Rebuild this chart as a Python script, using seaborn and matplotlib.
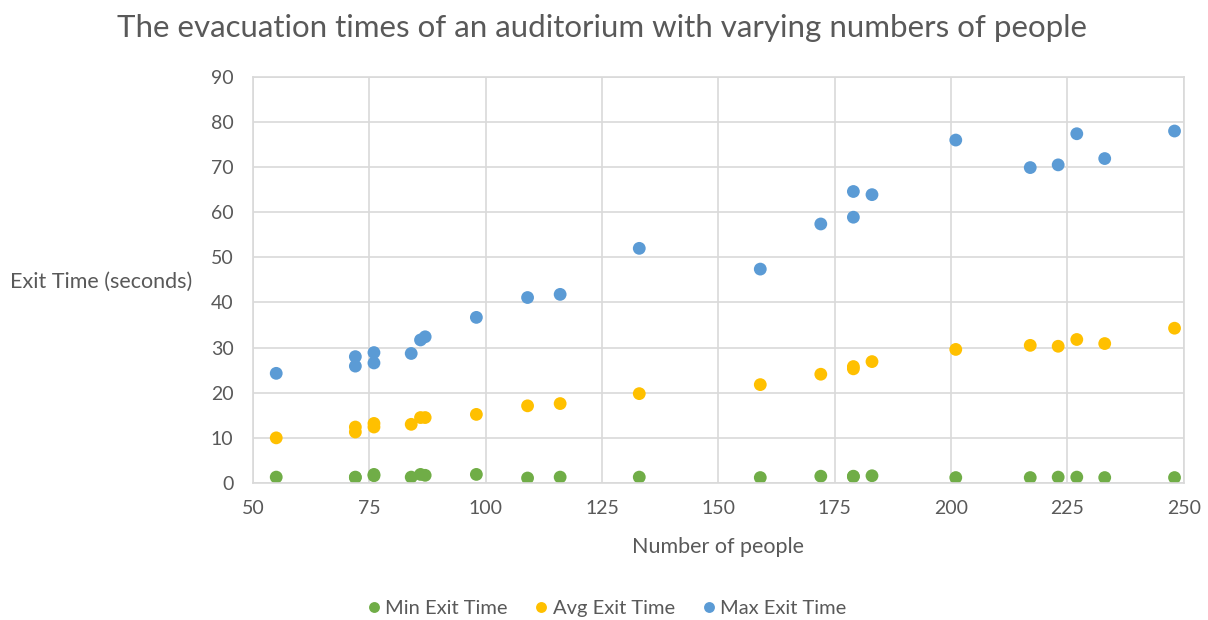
import matplotlib
matplotlib.use("Agg")
import matplotlib.pyplot as plt
import pandas as pd
import seaborn as sns

# Valores
people = [55, 72, 72, 76, 76, 84, 86, 87, 98, 109, 116, 133,
          159, 172, 179, 179, 183, 201, 217, 223, 227, 233, 248]
min_exit = [1.3, 1.3, 1.2, 1.9, 1.6, 1.3, 1.9, 1.7, 1.9, 1.1, 1.3, 1.3,
            1.2, 1.5, 1.5, 1.4, 1.6, 1.2, 1.2, 1.3, 1.3, 1.2, 1.2]
avg_exit = [10.0, 12.4, 11.3, 13.2, 12.4, 13.0, 14.5, 14.5, 15.2, 17.1, 17.6, 19.8,
            21.8, 24.1, 25.8, 25.3, 26.9, 29.6, 30.5, 30.3, 31.8, 30.9, 34.3]
max_exit = [24.3, 28.0, 25.9, 28.9, 26.6, 28.7, 31.7, 32.4, 36.7, 41.1, 41.8, 52.0,
            47.4, 57.4, 58.9, 64.6, 63.9, 76.0, 69.9, 70.5, 77.4, 71.9, 78.0]
series_names = ["Min Exit Time", "Avg Exit Time", "Max Exit Time"]
x_ticks = [50, 75, 100, 125, 150, 175, 200, 225, 250]
y_ticks = [0, 10, 20, 30, 40, 50, 60, 70, 80, 90]

colors = ["#70AD47", "#FFC000", "#5B9BD5"]
text_color = "#595959"
grid_color = "#D9D9D9"

df = pd.DataFrame({
    "people": people * 3,
    "time": min_exit + avg_exit + max_exit,
    "series": [s for s in series_names for _ in people],
})

sns.set_style("white")
plt.rcParams["font.family"] = ["Lato", "DejaVu Sans"]

fig = plt.figure(figsize=(12.08, 6.2), dpi=100)
ax = fig.add_axes([0.2094, 0.221, 0.7706, 0.655])

sns.scatterplot(
    data=df, x="people", y="time", hue="series",
    hue_order=series_names, palette=colors,
    s=85, linewidth=0, ax=ax, legend=True,
)

ax.set_xlim(50, 250)
ax.set_ylim(0, 90)
ax.set_xticks(x_ticks)
ax.set_yticks(y_ticks)
ax.grid(True, color=grid_color, linewidth=1.2)
ax.set_axisbelow(True)
for sp in ax.spines.values():
    sp.set_color(grid_color)
    sp.set_linewidth(1.2)
ax.tick_params(axis="y", length=0, labelsize=14, labelcolor=text_color, pad=14)
ax.tick_params(axis="x", length=0, labelsize=14, labelcolor=text_color, pad=12)

ax.set_xlabel("")
ax.set_ylabel("")
fig.text(0.5945, 1 - 547 / 620, "Number of people", ha="center", va="center",
         fontsize=15.5, color=text_color)
fig.text(10 / 1208, 1 - 282 / 620, "Exit Time (seconds)", ha="left", va="center",
         fontsize=15.5, color=text_color)
fig.text(0.498, 1 - 28 / 620,
         "The evacuation times of an auditorium with varying numbers of people",
         ha="center", va="center", fontsize=22.5, color=text_color)

# leyenda horizontal debajo del grafico
handles, labels = ax.get_legend_handles_labels()
ax.get_legend().remove()
fig.legend(handles, labels, loc="center", bbox_to_anchor=(0.502, 1 - 608 / 620),
           ncol=3, frameon=False, fontsize=14.5, labelcolor=text_color,
           handlelength=0.7, handletextpad=0.2, columnspacing=1.35, markerscale=0.85)

fig.savefig("out.png", dpi=100)
